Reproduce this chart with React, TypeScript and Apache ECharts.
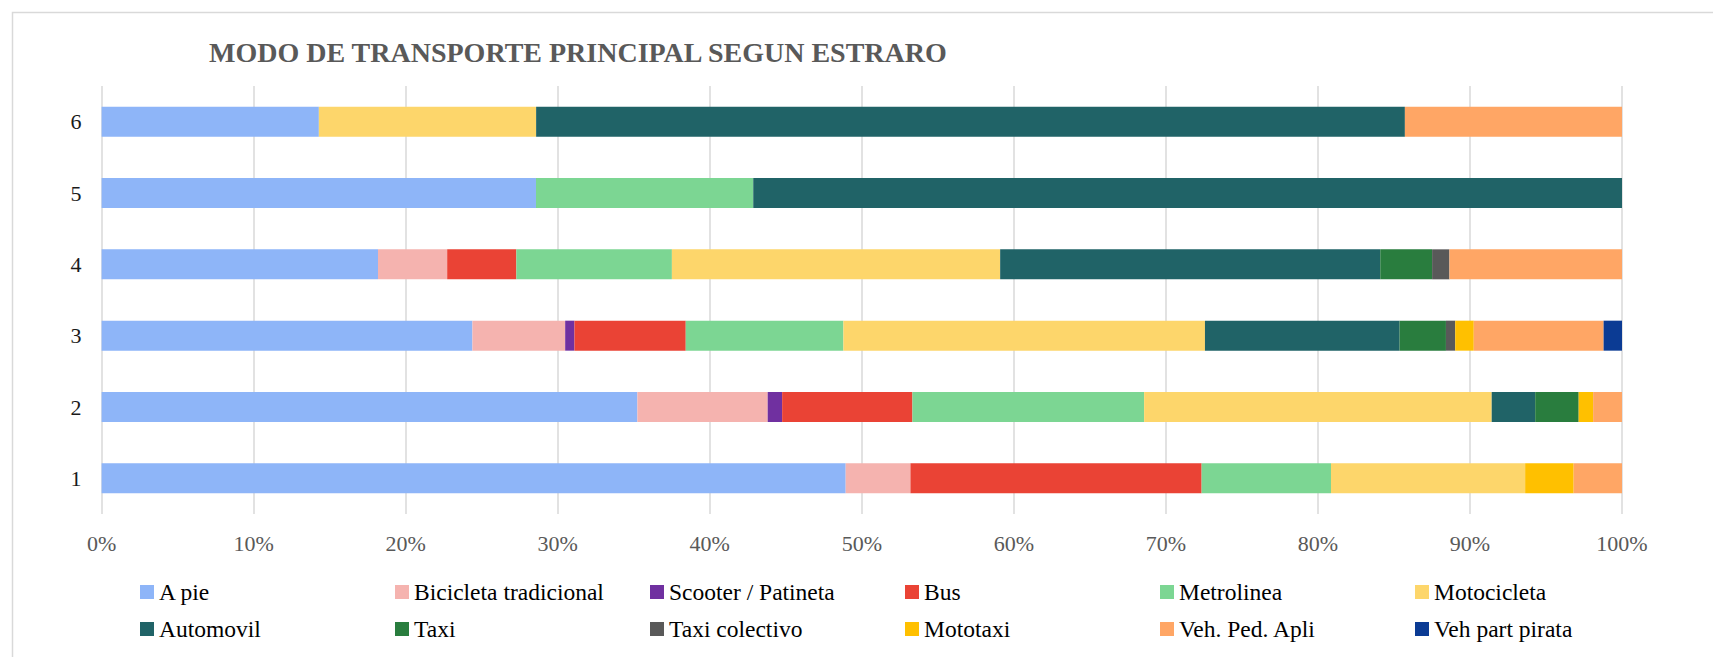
import React, { useEffect, useRef } from "react";
import * as echarts from "echarts";

const TITLE = "MODO DE TRANSPORTE PRINCIPAL SEGUN ESTRARO";
const categories = ["1", "2", "3", "4", "5", "6"];
const xTicks = { min: 0, max: 100, interval: 10 };

const seriesNames = [
  "A pie",
  "Bicicleta tradicional",
  "Scooter / Patineta",
  "Bus",
  "Metrolinea",
  "Motocicleta",
  "Automovil",
  "Taxi",
  "Taxi colectivo",
  "Mototaxi",
  "Veh. Ped. Apli",
  "Veh part pirata",
];

const colors = [
  "#8EB5F8",
  "#F5B3AF",
  "#7030A0",
  "#EA4335",
  "#7CD693",
  "#FDD66B",
  "#206367",
  "#297D3E",
  "#595959",
  "#FFC000",
  "#FFA665",
  "#0B3B94",
];

// percent of each category (1..6)
const aPie = [48.94, 35.24, 24.39, 18.18, 28.57, 14.29];
const bicicleta = [4.26, 8.57, 6.1, 4.55, 0, 0];
const scooter = [0, 0.95, 0.61, 0, 0, 0];
const bus = [19.15, 8.57, 7.32, 4.55, 0, 0];
const metrolinea = [8.51, 15.24, 10.37, 10.23, 14.29, 0];
const motocicleta = [12.77, 22.86, 23.78, 21.59, 0, 14.29];
const automovil = [0, 2.86, 12.8, 25.0, 57.14, 57.14];
const taxi = [0, 2.86, 3.05, 3.41, 0, 0];
const taxiColectivo = [0, 0, 0.61, 1.14, 0, 0];
const mototaxi = [3.19, 0.95, 1.22, 0, 0, 0];
const vehPedApli = [3.19, 1.9, 8.54, 11.36, 0, 14.29];
const vehPirata = [0, 0, 1.22, 0, 0, 0];

const seriesData = [
  aPie,
  bicicleta,
  scooter,
  bus,
  metrolinea,
  motocicleta,
  automovil,
  taxi,
  taxiColectivo,
  mototaxi,
  vehPedApli,
  vehPirata,
];

const FONT = '"Liberation Serif", "Times New Roman", serif';

export default function App() {
  const ref = useRef<HTMLDivElement>(null);

  useEffect(() => {
    document.body.style.margin = "0";
    if (!ref.current) return;
    const chart = echarts.init(ref.current, undefined, { renderer: "svg" });

    const legendBase = {
      orient: "horizontal" as const,
      padding: 0,
      itemWidth: 14,
      itemHeight: 14,
      itemGap: 0,
      icon: "rect",
      selectedMode: false,
      textStyle: {
        fontFamily: FONT,
        fontSize: 23.5,
        color: "#000000",
        width: 236,
        lineHeight: 24,
      },
    };

    chart.setOption({
      animation: false,
      backgroundColor: "#ffffff",
      color: colors,
      title: {
        text: TITLE,
        left: 204,
        top: 33,
        textStyle: {
          fontFamily: FONT,
          fontSize: 28,
          fontWeight: "bold",
          color: "#595959",
        },
      },
      graphic: [
        {
          type: "rect",
          left: 10,
          top: 10,
          shape: { width: 1760, height: 700 },
          style: { fill: "none", stroke: "#D9D9D9", lineWidth: 1.5 },
          silent: true,
          z: -1,
        },
      ],
      legend: [
        {
          ...legendBase,
          left: 140,
          top: 580,
          data: seriesNames.slice(0, 6),
        },
        {
          ...legendBase,
          left: 140,
          top: 617,
          data: seriesNames.slice(6),
        },
      ],
      grid: {
        left: 101.6,
        right: 91,
        top: 86,
        bottom: 143,
        containLabel: false,
      },
      xAxis: {
        type: "value",
        min: xTicks.min,
        max: xTicks.max,
        interval: xTicks.interval,
        axisLine: { show: false },
        axisTick: { show: false },
        splitLine: { show: true, lineStyle: { color: "#D9D9D9", width: 1.5 } },
        axisLabel: {
          formatter: "{value}%",
          fontFamily: FONT,
          fontSize: 22,
          color: "#595959",
          margin: 18,
        },
      },
      yAxis: {
        type: "category",
        data: categories,
        axisLine: { show: false },
        axisTick: { show: false },
        splitLine: { show: false },
        axisLabel: {
          fontFamily: FONT,
          fontSize: 22,
          color: "#1a1a1a",
          margin: 20,
        },
      },
      series: seriesNames.map((name, i) => ({
        name,
        type: "bar",
        stack: "total",
        barWidth: 30,
        data: seriesData[i],
        itemStyle: { color: colors[i] },
        emphasis: { disabled: true },
      })),
    });

    return () => {
      chart.dispose();
    };
  }, []);

  return (
    <div
      ref={ref}
      style={{ position: "absolute", left: 0, top: 0, width: 1713, height: 657 }}
    />
  );
}
